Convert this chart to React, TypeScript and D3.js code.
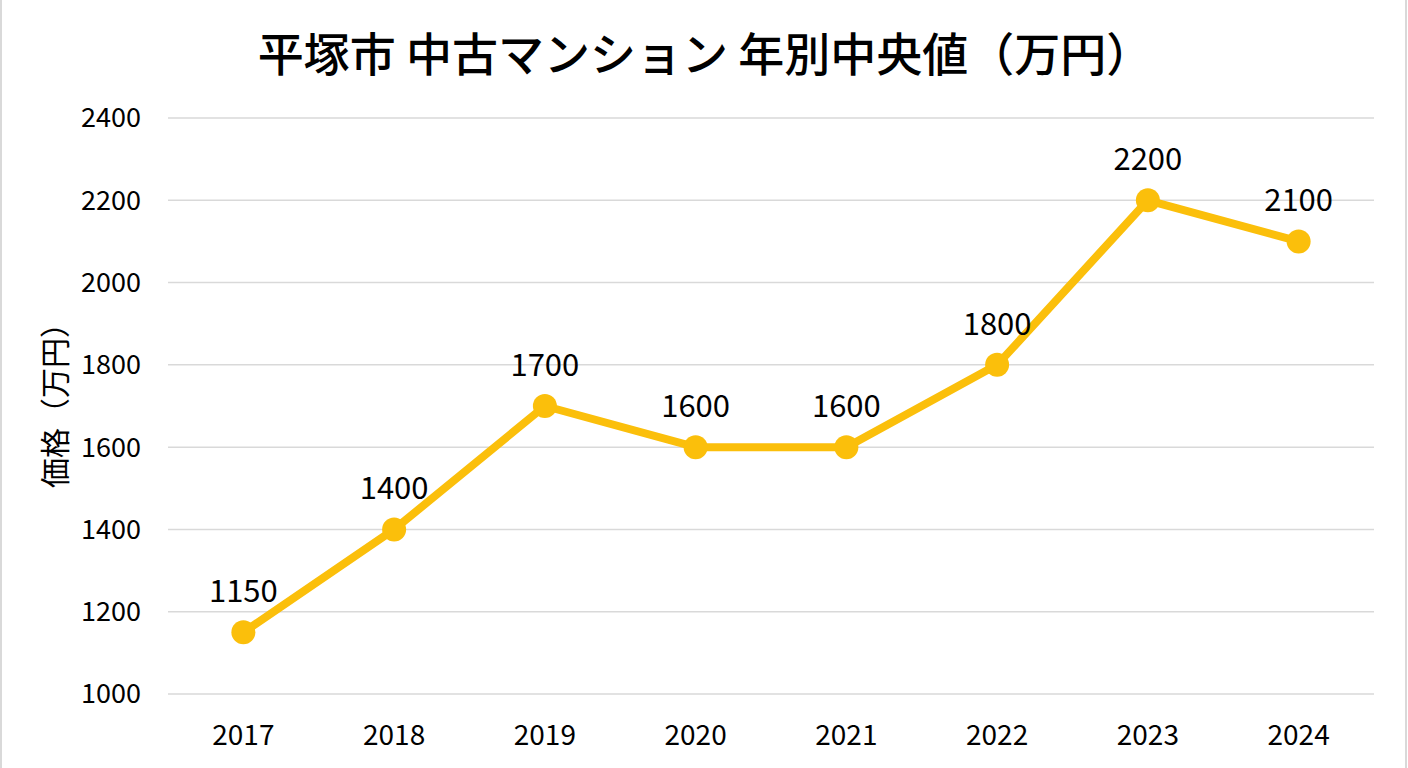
import React, { useRef, useEffect } from 'react';
import * as d3 from 'd3';

const years = ['2017', '2018', '2019', '2020', '2021', '2022', '2023', '2024'];
const medianPrices = [1150, 1400, 1700, 1600, 1600, 1800, 2200, 2100];
const yTicks = [1000, 1200, 1400, 1600, 1800, 2000, 2200, 2400];

const title = '平塚市 中古マンション 年別中央値（万円）';
const yTitle = '価格（万円）';

const FONT = '"Noto Sans CJK JP", "Noto Sans", sans-serif';

const App = () => {
  const svgRef = useRef<SVGSVGElement>(null);
  const width = 1408;
  const height = 768;

  useEffect(() => {
    const margin = { top: 118, right: 34, bottom: 74, left: 168 };
    const svg = d3.select(svgRef.current);
    svg.selectAll('*').remove();

    // outer chart frame
    svg.append('rect')
      .attr('x', 1).attr('y', -2)
      .attr('width', width - 3).attr('height', height + 4)
      .attr('fill', '#fff')
      .attr('stroke', '#d9d9d9')
      .attr('stroke-width', 2);

    const x = d3.scaleBand()
      .domain(years)
      .range([margin.left, width - margin.right])
      .padding(0);

    const y = d3.scaleLinear()
      .domain([1000, 2400])
      .range([height - margin.bottom, margin.top]);

    // gridlines
    svg.append('g')
      .selectAll('line')
      .data(yTicks)
      .join('line')
      .attr('x1', margin.left)
      .attr('x2', width - margin.right)
      .attr('y1', d => y(d))
      .attr('y2', d => y(d))
      .attr('stroke', '#d9d9d9')
      .attr('stroke-width', 1.5);

    // y tick labels
    svg.append('g')
      .selectAll('text')
      .data(yTicks)
      .join('text')
      .attr('x', 141)
      .attr('y', d => y(d))
      .attr('dy', '0.35em')
      .attr('text-anchor', 'end')
      .attr('font-family', FONT)
      .attr('font-size', 27)
      .attr('fill', '#000')
      .text(d => d);

    // x tick labels
    svg.append('g')
      .selectAll('text')
      .data(years)
      .join('text')
      .attr('x', d => x(d)! + x.bandwidth() / 2)
      .attr('y', 735)
      .attr('dy', '0.35em')
      .attr('text-anchor', 'middle')
      .attr('font-family', FONT)
      .attr('font-size', 28)
      .attr('fill', '#000')
      .text(d => d);

    const cx = (i: number) => x(years[i])! + x.bandwidth() / 2;

    const line = d3.line<number>()
      .x((d, i) => cx(i))
      .y(d => y(d));

    svg.append('path')
      .datum(medianPrices)
      .attr('fill', 'none')
      .attr('stroke', '#fbbf0b')
      .attr('stroke-width', 8)
      .attr('stroke-linejoin', 'round')
      .attr('d', line);

    svg.append('g')
      .selectAll('circle')
      .data(medianPrices)
      .join('circle')
      .attr('cx', (d, i) => cx(i))
      .attr('cy', d => y(d))
      .attr('r', 12)
      .attr('fill', '#fbbf0b');

    // value labels
    svg.append('g')
      .selectAll('text')
      .data(medianPrices)
      .join('text')
      .attr('x', (d, i) => cx(i))
      .attr('y', d => y(d) - 41)
      .attr('dy', '0.35em')
      .attr('text-anchor', 'middle')
      .attr('font-family', FONT)
      .attr('font-size', 31)
      .attr('fill', '#000')
      .text(d => d);

    svg.append('text')
      .attr('x', 705)
      .attr('y', 55)
      .attr('dy', '0.35em')
      .attr('text-anchor', 'middle')
      .attr('font-family', FONT)
      .attr('font-size', 46)
      .attr('font-weight', 500)
      .attr('fill', '#000')
      .text(title);

    svg.append('text')
      .attr('transform', `translate(55, 398) rotate(-90)`)
      .attr('dy', '0.35em')
      .attr('text-anchor', 'middle')
      .attr('font-family', FONT)
      .attr('font-size', 30)
      .attr('fill', '#000')
      .text(yTitle);
  }, []);

  return (
    <svg
      ref={svgRef}
      width={width}
      height={height}
      style={{ position: 'fixed', left: 0, top: 0, background: '#fff' }}
    ></svg>
  );
};

export default App;
